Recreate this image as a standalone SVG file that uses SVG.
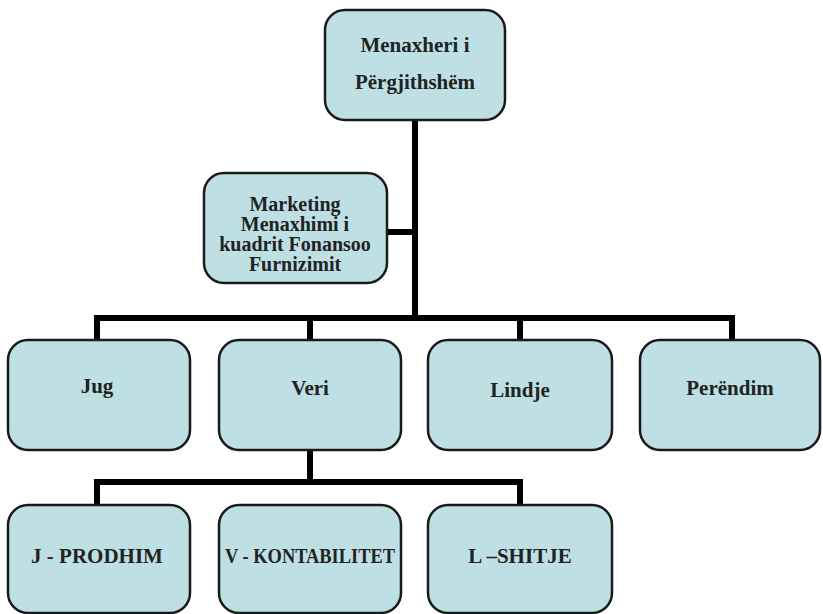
<svg xmlns="http://www.w3.org/2000/svg" width="823" height="614" viewBox="0 0 823 614">
<defs>
<style>
.box{fill:#bee0e5;stroke:#1a1a1a;stroke-width:2.5}
.t{font-family:"Liberation Serif","Times New Roman",serif;font-weight:bold;font-size:21px;fill:#222;text-anchor:middle}
.m{font-size:20px}
.c{fill:none;stroke:#000;stroke-width:6;stroke-linejoin:miter;stroke-linecap:butt}
</style>
</defs>
<rect width="823" height="614" fill="#fff"/>
<g id="connectors">
<path class="c" d="M415 120 V318"/>
<path class="c" d="M387 232 H415"/>
<path class="c" d="M97 340 V318 H732 V340"/>
<path class="c" d="M310 318 V340"/>
<path class="c" d="M520 318 V340"/>
<path class="c" d="M310 450 V482"/>
<path class="c" d="M97 505 V482 H520 V505"/>
</g>
<g id="n-top">
<rect class="box" x="325" y="10" width="180" height="110" rx="20"/>
<text class="t" x="415" y="52">Menaxheri i</text>
<text class="t" x="415" y="89">Përgjithshëm</text>
</g>
<g id="n-marketing">
<rect class="box" x="204" y="173" width="183" height="110" rx="20"/>
<text class="t m" x="295" y="211">Marketing</text>
<text class="t m" x="295" y="231">Menaxhimi i</text>
<text class="t m" x="295" y="251">kuadrit Fonansoo</text>
<text class="t m" x="295" y="271">Furnizimit</text>
</g>
<g id="n-jug">
<rect class="box" x="8" y="340" width="182" height="110" rx="20"/>
<text class="t" x="97" y="393">Jug</text>
</g>
<g id="n-veri">
<rect class="box" x="219" y="340" width="182" height="110" rx="20"/>
<text class="t" x="310" y="395">Veri</text>
</g>
<g id="n-lindje">
<rect class="box" x="428" y="340" width="184" height="110" rx="20"/>
<text class="t" x="520" y="397">Lindje</text>
</g>
<g id="n-perendim">
<rect class="box" x="640" y="340" width="180" height="110" rx="20"/>
<text class="t" x="730" y="395">Perëndim</text>
</g>
<g id="n-prodhim">
<rect class="box" x="8" y="505" width="182" height="108" rx="20"/>
<text class="t" x="97" y="563">J - PRODHIM</text>
</g>
<g id="n-kontabilitet">
<rect class="box" x="219" y="505" width="182" height="108" rx="20"/>
<text class="t" x="310" y="563" textLength="170" lengthAdjust="spacingAndGlyphs">V - KONTABILITET</text>
</g>
<g id="n-shitje">
<rect class="box" x="428" y="505" width="184" height="108" rx="20"/>
<text class="t" x="520" y="563">L –SHITJE</text>
</g>
</svg>
